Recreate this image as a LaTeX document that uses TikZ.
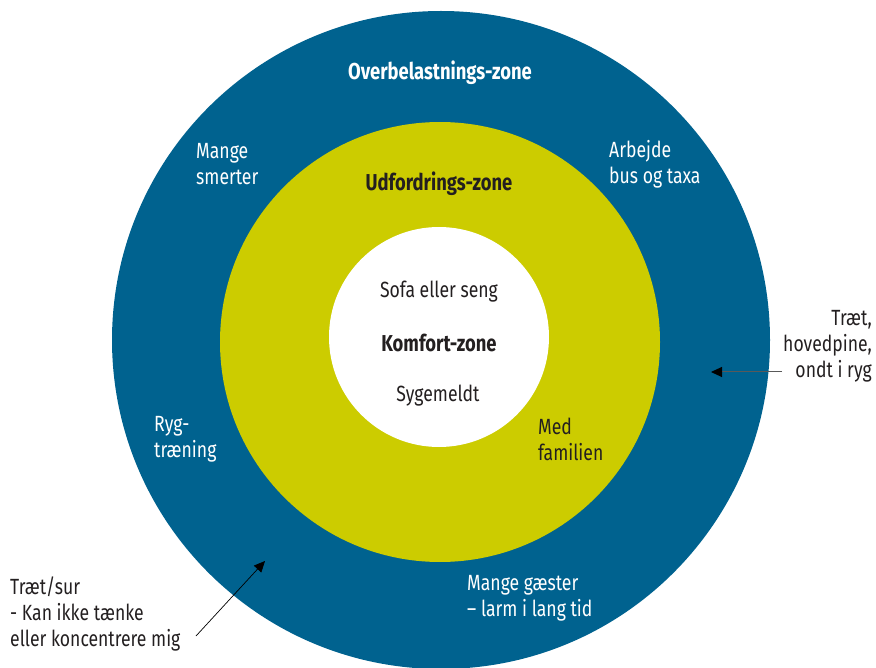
\documentclass[tikz,border=0pt]{standalone}
\usepackage{fontspec}
\setmainfont{Fira Sans}[FakeStretch=0.8]
\usetikzlibrary{arrows.meta}
\definecolor{zblue}{HTML}{00628F}
\definecolor{zyellow}{HTML}{CCCC00}
\definecolor{ztext}{HTML}{231F20}
\tikzset{
  lbl/.style={inner sep=0pt, font=\fontsize{22}{26}\selectfont, align=left},
  wlbl/.style={lbl, text=white},
  dlbl/.style={lbl, text=ztext},
  title/.style={inner sep=0pt, font=\fontsize{23}{26}\selectfont\bfseries, align=center},
  pointer/.style={-{Triangle[length=11pt,width=10pt,color=black]}, line width=0.7pt},
}
\begin{document}
\begin{tikzpicture}[x=1pt,y=-1pt]
\useasboundingbox (0,0) rectangle (876,668);
\fill[zblue] (441,340) circle[radius=329];
\fill[zyellow] (440,342) circle[radius=220];
\fill[white] (439,337) circle[radius=110];

\node[title, text=white] (over) at (440,73) {Overbelastnings-zone};
\node[title, text=ztext] (udf) at (439,184) {Udfordrings-zone};
\node[title, text=ztext] (komf) at (439,343) {Komfort-zone};
\node[dlbl, align=center] (sofa) at (439,292) {Sofa eller seng};
\node[dlbl, align=center] (syge) at (438,396) {Sygemeldt};

\node[wlbl, anchor=west] (smerter) at (196,164) {Mange\\smerter};
\node[wlbl, anchor=west] (arbejde) at (609,164) {Arbejde\\bus og taxa};
\node[wlbl, anchor=west] (ryg) at (154,439) {Ryg-\\træning};
\node[dlbl, anchor=west] (fam) at (538,439) {Med\\familien};
\node[wlbl, anchor=west] (gaester) at (467,598) {Mange gæster\\– larm i lang tid};

\node[dlbl, align=right, anchor=east] (traet) at (872,346) {Træt,\\hovedpine,\\ondt i ryg};
\node[dlbl, anchor=west] (sur) at (10,614) {Træt/sur\\- Kan ikke tænke\\eller koncentrere mig};

\coordinate (a1s) at (782,372);
\coordinate (a1e) at (711,372);
\draw[pointer, draw=black!65, line width=1pt] (a1s) -- (a1e);
\coordinate (a2s) at (196,636);
\coordinate (a2e) at (265,561);
\draw[pointer, draw=black] (a2s) -- (a2e);
\end{tikzpicture}
\end{document}
